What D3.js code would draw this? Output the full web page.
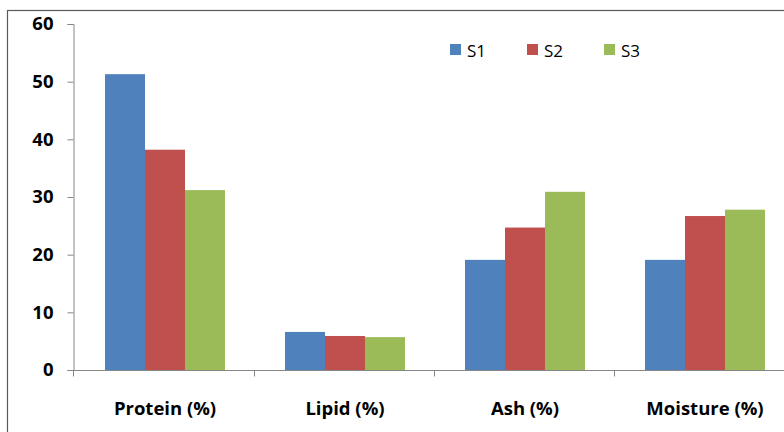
<!DOCTYPE html>
<html><head><meta charset="utf-8">
<script src="https://cdn.jsdelivr.net/npm/d3@7"></script>
<style>body{margin:0;background:#fff}svg{display:block}</style>
</head><body>
<svg id="c" width="784" height="432"></svg>
<script>
const categories = ["Protein (%)", "Lipid (%)", "Ash (%)", "Moisture (%)"];
const seriesNames = ["S1", "S2", "S3"];
const S1 = [51.3, 6.6, 19.1, 19.1];
const S2 = [38.2, 5.9, 24.7, 26.7];
const S3 = [31.2, 5.7, 30.9, 27.8];
const yTicks = [0, 10, 20, 30, 40, 50, 60];
const colors = ["#4F81BD", "#C0504D", "#9BBB59"];

const series = [S1, S2, S3];
const svg = d3.select("#c");
const font = "'Open Sans', 'Liberation Sans', sans-serif";

// outer border
svg.append("rect").attr("x", 7.5).attr("y", 10.5).attr("width", 800).attr("height", 500)
  .attr("fill", "none").attr("stroke", "#595959").attr("stroke-width", 1.2);

const axisX = 73, x0 = 75, x1 = 795, yTop = 24, yBot = 370;
const x = d3.scaleBand().domain(categories).range([x0, x1]).padding(0);
const xs = d3.scaleBand().domain(seriesNames).range([x.bandwidth() / 6, x.bandwidth() * 5 / 6]).padding(0);
const y = d3.scaleLinear().domain([0, 60]).range([yBot, yTop]);

// bars
const g = svg.append("g");
categories.forEach((c, i) => {
  seriesNames.forEach((s, j) => {
    g.append("rect")
      .attr("x", x(c) + xs(s))
      .attr("y", y(series[j][i]))
      .attr("width", xs.bandwidth())
      .attr("height", y(0) - y(series[j][i]))
      .attr("fill", colors[j]);
  });
});

// y axis
const yAxis = d3.axisLeft(y).tickValues(yTicks).tickSize(6).tickPadding(14);
const ya = svg.append("g").attr("transform", `translate(${axisX + 0.5},0)`).call(yAxis);
ya.select(".domain").attr("stroke", "#868686");
ya.selectAll(".tick line").attr("stroke", "#868686");
ya.selectAll(".tick text").attr("font-family", font).attr("font-weight", "bold")
  .attr("font-size", 18.5).attr("fill", "#000");

// x axis
const xa = svg.append("g").attr("transform", `translate(0,${yBot + 0.5})`);
xa.append("line").attr("x1", axisX).attr("x2", 784).attr("stroke", "#868686");
categories.forEach((c, i) => {
  const px = i === 0 ? axisX : Math.round(x(c)) - 1;
  xa.append("line").attr("x1", px + 0.5).attr("x2", px + 0.5)
    .attr("y1", 0).attr("y2", 6).attr("stroke", "#868686");
});
categories.forEach(c => {
  svg.append("text").attr("x", x(c) + x.bandwidth() / 2).attr("y", 415)
    .attr("text-anchor", "middle").attr("font-family", font).attr("font-weight", "bold")
    .attr("font-size", 18.5).attr("fill", "#000").text(c);
});

// legend
const legX = [450, 527, 604];
seriesNames.forEach((s, j) => {
  svg.append("rect").attr("x", legX[j]).attr("y", 44).attr("width", 11).attr("height", 11).attr("fill", colors[j]);
  svg.append("text").attr("x", legX[j] + 17).attr("y", 56.5).attr("font-family", font)
    .attr("font-size", 17).attr("fill", "#000").text(s);
});
</script>
</body></html>
